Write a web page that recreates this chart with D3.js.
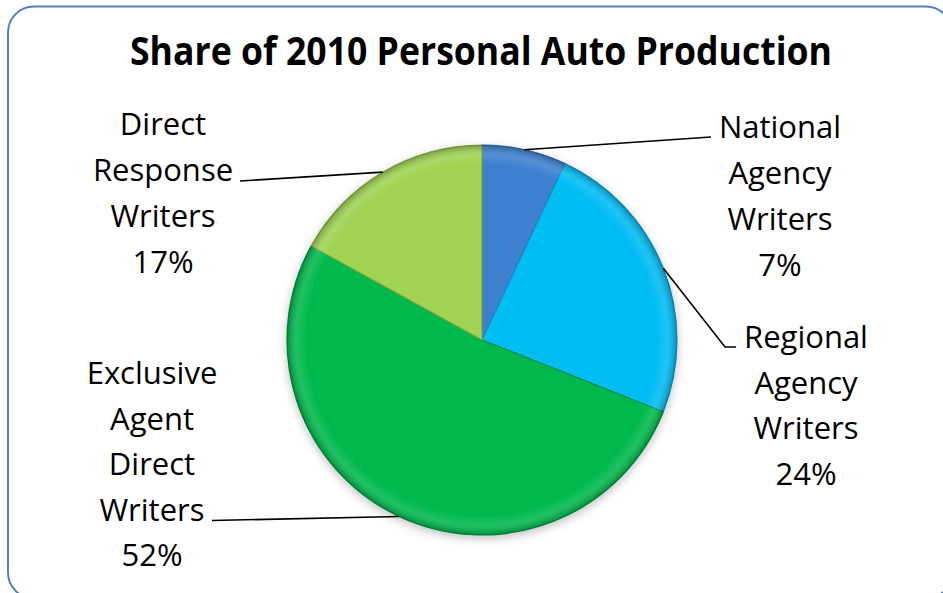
<!DOCTYPE html>
<html><head><meta charset="utf-8">
<script src="https://cdn.jsdelivr.net/npm/d3@7"></script>
<style>html,body{margin:0;padding:0;background:#fff;}svg{display:block;}</style>
</head><body>
<svg id="chart" width="943" height="593"></svg>
<script>
const categories = ["National Agency Writers", "Regional Agency Writers", "Exclusive Agent Direct Writers", "Direct Response Writers"];
const values = [7, 24, 52, 17];
const labelLines = [
  ["National", "Agency", "Writers", "7%"],
  ["Regional", "Agency", "Writers", "24%"],
  ["Exclusive", "Agent", "Direct", "Writers", "52%"],
  ["Direct", "Response", "Writers", "17%"]
];
const colors = ["#3d80d0", "#05bdf4", "#06b94e", "#a0d352"];
const edgeColors = ["#2a5c9e", "#1a8ec0", "#078a3a", "#7ea43d"];

const W = 943, H = 593;
const svg = d3.select("#chart");
const defs = svg.append("defs");

// frame
svg.append("rect").attr("x", 8).attr("y", 6.5).attr("width", 944).attr("height", 592)
  .attr("rx", 26).attr("ry", 26).attr("fill", "#fff").attr("stroke", "#4f81bd").attr("stroke-width", 2);

// title
const title = svg.append("text").attr("x", 481).attr("y", 65).attr("text-anchor", "middle")
  .attr("font-family", "'Open Sans', sans-serif").attr("font-weight", "bold").attr("font-size", 39)
  .attr("fill", "#000").text("Share of 2010 Personal Auto Production");
const tw = title.node().getComputedTextLength();
if (tw > 702) title.attr("textLength", 702).attr("lengthAdjust", "spacingAndGlyphs");

const cx = 482, cy = 340, r = 195;

// shadow filter
const f = defs.append("filter").attr("id", "shadow").attr("x", "-20%").attr("y", "-20%").attr("width", "140%").attr("height", "140%");
f.append("feDropShadow").attr("dx", 0).attr("dy", 3).attr("stdDeviation", 5).attr("flood-color", "#000").attr("flood-opacity", 0.25);

// bevel gradient
const rg = defs.append("radialGradient").attr("id", "bevel").attr("gradientUnits", "userSpaceOnUse")
  .attr("cx", 0).attr("cy", 0).attr("r", r);
rg.append("stop").attr("offset", "0%").attr("stop-color", "#fff").attr("stop-opacity", 0);
rg.append("stop").attr("offset", "90%").attr("stop-color", "#fff").attr("stop-opacity", 0);
rg.append("stop").attr("offset", "95%").attr("stop-color", "#fff").attr("stop-opacity", 0.12);
rg.append("stop").attr("offset", "100%").attr("stop-color", "#000").attr("stop-opacity", 0.25);

const pie = d3.pie().sort(null).value(d => d)(values);
const arc = d3.arc().innerRadius(0).outerRadius(r);
const edgeArc = d3.arc().innerRadius(r).outerRadius(r);

const g = svg.append("g").attr("transform", `translate(${cx},${cy})`);
const slices = g.append("g").attr("filter", "url(#shadow)");
slices.selectAll("path.slice").data(pie).join("path").attr("class", "slice")
  .attr("d", arc).attr("fill", (d, i) => colors[i])
  .attr("stroke", (d, i) => edgeColors[i]).attr("stroke-width", 1.2);
g.selectAll("path.bev").data(pie).join("path").attr("class", "bev")
  .attr("d", arc).attr("fill", "url(#bevel)").attr("stroke", "none");

// labels
const font = "'Open Sans', sans-serif";
const labelPos = [
  {x: 780, y: 138, dy: 46},
  {x: 806, y: 348, dy: 45.5},
  {x: 152, y: 384, dy: 45.6},
  {x: 163, y: 135, dy: 46}
];
const lineEnds = [
  [[711, 137]],
  [[725, 347], [736, 347]],
  [[212, 520.5]],
  [[240, 181]]
];
pie.forEach((d, i) => {
  const p = edgeArc.centroid(d);
  const pts = [[cx + p[0], cy + p[1]], ...lineEnds[i]];
  svg.append("path").attr("d", d3.line()(pts)).attr("fill", "none").attr("stroke", "#000").attr("stroke-width", 1.6);
  const t = svg.append("text").attr("font-family", font).attr("font-size", 31).attr("fill", "#000").attr("text-anchor", "middle");
  labelLines[i].forEach((ln, j) => {
    t.append("tspan").attr("x", labelPos[i].x).attr("y", labelPos[i].y + j * labelPos[i].dy).text(ln);
  });
});
</script>
</body></html>
